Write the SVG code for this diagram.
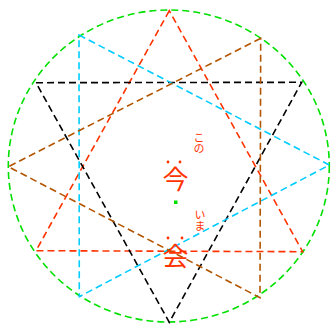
<svg xmlns="http://www.w3.org/2000/svg" width="331" height="324" viewBox="0 0 331 324">
<style>
.l{fill:none;stroke-width:1.6;stroke-dasharray:7,4}
.t{fill:#ff3300;font-family:"Noto Sans CJK JP","Noto Sans",sans-serif}
.v{writing-mode:vertical-rl;text-orientation:upright;glyph-orientation-vertical:0;font-size:11px}
</style>
<rect width="331" height="324" fill="#fff"/>
<g id="connectors">
<ellipse class="l" cx="168.8" cy="166" rx="160.5" ry="156" stroke="#00e000"/>
<polygon class="l" stroke="#ff3300" points="169.3,10.7 36,250.7 302.7,251.7"/>
<polygon class="l" stroke="#000" points="36,82.7 301.7,82.3 169.3,322.3"/>
<polygon class="l" stroke="#00ccff" points="79,35 329.3,165 79.3,296.7"/>
<polygon class="l" stroke="#b35500" points="260.7,38.3 8.3,166.7 260,297.7"/>
</g>
<g id="kono">
<text class="t v" x="199" y="132">この</text>
</g>
<g id="ima">
<text class="t v" x="200" y="209">いま</text>
</g>
<g id="kon">
<circle cx="168" cy="162" r="1.4" fill="#ff3300"/>
<circle cx="180" cy="162" r="1.4" fill="#ff3300"/>
<text class="t" x="175.5" y="189" font-size="26" text-anchor="middle">今</text>
</g>
<g id="dot"><rect x="174" y="200.5" width="3.5" height="3.5" fill="#00e000"/></g>
<g id="kai">
<circle cx="168" cy="238" r="1.4" fill="#ff3300"/>
<circle cx="182" cy="238" r="1.4" fill="#ff3300"/>
<text class="t" x="175.5" y="266" font-size="26" text-anchor="middle">会</text>
</g>
</svg>
